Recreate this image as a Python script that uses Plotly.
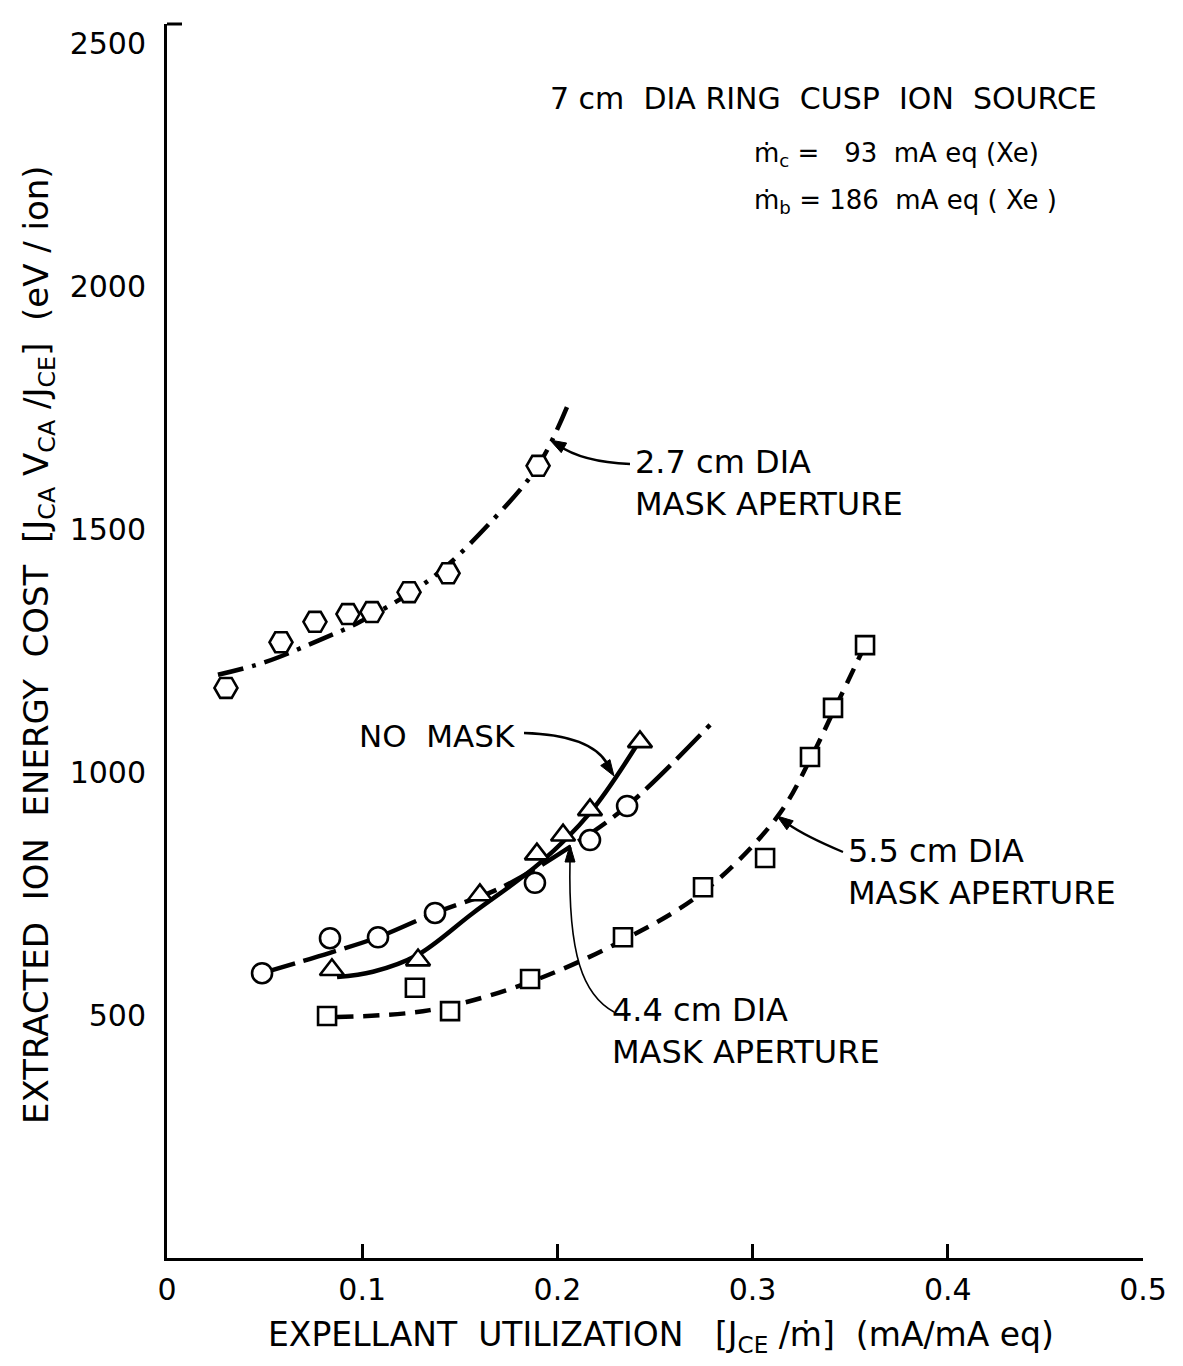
import math
import plotly.graph_objects as go

# ---------------- data ----------------
# 2.7 cm DIA mask aperture (hexagons)
hex_x = [0.0302, 0.0584, 0.0758, 0.0927, 0.1050, 0.1240, 0.1440, 0.1901]
hex_y = [1173, 1267, 1309, 1325, 1329, 1370, 1409, 1630]
hex_fit_x = [0.0261, 0.0502, 0.0784, 0.0989, 0.1363, 0.1670, 0.1901, 0.2049]
hex_fit_y = [1200, 1226, 1272, 1309, 1401, 1519, 1630, 1751]

# 4.4 cm DIA mask aperture (circles)
cir_x = [0.0487, 0.0835, 0.1081, 0.1373, 0.1885, 0.2167, 0.2357]
cir_y = [586, 658, 660, 710, 772, 860, 930]
cir_fit_x = [0.0487, 0.0835, 0.1081, 0.1373, 0.1706, 0.2065, 0.2357, 0.2782]
cir_fit_y = [586, 628, 660, 710, 761, 846, 930, 1097]

# No mask (triangles)
tri_x = [0.0845, 0.1286, 0.1603, 0.1895, 0.2029, 0.2167, 0.2423]
tri_y = [593, 613, 747, 831, 870, 922, 1062]
tri_fit_x = [0.0871, 0.1055, 0.1281, 0.1568, 0.1911, 0.2167, 0.2408]
tri_fit_y = [578, 589, 623, 710, 813, 916, 1056]

# 5.5 cm DIA mask aperture (squares)
sq_x = [0.0820, 0.1270, 0.1450, 0.1860, 0.2336, 0.2746, 0.3064, 0.3294, 0.3412, 0.3576]
sq_y = [498, 556, 508, 574, 660, 763, 823, 1031, 1132, 1261]
sq_fit_x = [0.0871, 0.1347, 0.1860, 0.2336, 0.2746, 0.3125, 0.3294, 0.3412, 0.3560]
sq_fit_y = [496, 510, 568, 654, 753, 907, 1025, 1123, 1247]

x_ticks = [0, 0.1, 0.2, 0.3, 0.4, 0.5]
x_ticktext = ["0", "0.1", "0.2", "0.3", "0.4", "0.5"]
y_ticks = [500, 1000, 1500, 2000, 2500]
y_ticktext = ["500", "1000", "1500", "2000", "2500"]

# ---------------- layout helpers (pixel -> paper units) ----------------
L, R, T, B = 167, 40, 24, 108
W, H = 1183, 1366
PW, PH = W - L - R, H - B - T
X_MAX = 0.5
Y_MAX = PH / 0.486          # 486 px per 1000 eV/ion


def PPX(px):   # paper x
    return (px - L) / PW


def PPY(py):   # paper y
    return (H - B - py) / PH


FONT = "DejaVu Sans"
BLACK = "#000000"
NB = "\u00a0"

fig = go.Figure()

# fitted curves
fig.add_trace(go.Scatter(x=hex_fit_x, y=hex_fit_y, mode="lines", line_shape="spline",
                         line=dict(color=BLACK, width=4.5, dash="26px,9px,4px,9px"),
                         hoverinfo="skip", showlegend=False))
fig.add_trace(go.Scatter(x=cir_fit_x, y=cir_fit_y, mode="lines", line_shape="spline",
                         line=dict(color=BLACK, width=4.5, dash="34px,9px"),
                         hoverinfo="skip", showlegend=False))
fig.add_trace(go.Scatter(x=sq_fit_x, y=sq_fit_y, mode="lines", line_shape="spline",
                         line=dict(color=BLACK, width=4.5, dash="16px,10px"),
                         hoverinfo="skip", showlegend=False))
fig.add_trace(go.Scatter(x=tri_fit_x, y=tri_fit_y, mode="lines", line_shape="spline",
                         line=dict(color=BLACK, width=4.5),
                         hoverinfo="skip", showlegend=False))

mk_line = dict(color=BLACK, width=2.6)
fig.add_trace(go.Scatter(x=hex_x, y=hex_y, mode="markers", name="2.7 cm DIA",
                         marker=dict(symbol="hexagon2", size=23, color="white", line=mk_line),
                         showlegend=False))
fig.add_trace(go.Scatter(x=cir_x, y=cir_y, mode="markers", name="4.4 cm DIA",
                         marker=dict(symbol="circle", size=20, color="white", line=mk_line),
                         showlegend=False))
fig.add_trace(go.Scatter(x=tri_x, y=tri_y, mode="markers", name="NO MASK",
                         marker=dict(symbol="triangle-up", size=21, color="white", line=mk_line),
                         showlegend=False))
fig.add_trace(go.Scatter(x=sq_x, y=sq_y, mode="markers", name="5.5 cm DIA",
                         marker=dict(symbol="square", size=18, color="white", line=mk_line),
                         showlegend=False))

annotations = []
shapes = []


def text(px, py, s, size=32, xanchor="left", align="left", angle=0):
    annotations.append(dict(x=PPX(px), y=PPY(py), xref="paper", yref="paper", text=s,
                            showarrow=False, xanchor=xanchor, yanchor="middle", align=align,
                            textangle=angle,
                            font=dict(family=FONT, size=size, color=BLACK)))


def curve(path_px, width=2.2):
    parts = []
    for tok in path_px:
        if isinstance(tok, str):
            parts.append(tok)
        else:
            parts.append(f"{PPX(tok[0])},{PPY(tok[1])}")
    shapes.append(dict(type="path", xref="paper", yref="paper", path=" ".join(parts),
                       line=dict(color=BLACK, width=width)))


def head(tip, frm, length=16, half=5.5):
    dx, dy = tip[0] - frm[0], tip[1] - frm[1]
    n = math.hypot(dx, dy)
    ux, uy = dx / n, dy / n
    bx, by = tip[0] - ux * length, tip[1] - uy * length
    p1 = (bx - uy * half, by + ux * half)
    p2 = (bx + uy * half, by - ux * half)
    path = (f"M {PPX(tip[0])},{PPY(tip[1])} L {PPX(p1[0])},{PPY(p1[1])} "
            f"L {PPX(p2[0])},{PPY(p2[1])} Z")
    shapes.append(dict(type="path", xref="paper", yref="paper", path=path,
                       fillcolor=BLACK, line=dict(color=BLACK, width=1)))


# header block
text(823, 98, f"7 cm{NB}{NB}DIA{NB}RING{NB}{NB}CUSP{NB}{NB}ION{NB}{NB}SOURCE", size=30,
     xanchor="center", align="center")
text(752, 155, f"ṁ<sub>c</sub>{NB}={NB}{NB}{NB}93{NB}{NB}mA{NB}eq{NB}(Xe)", size=26)
text(752, 202, f"ṁ<sub>b</sub>{NB}={NB}186{NB}{NB}mA{NB}eq{NB}({NB}Xe{NB})", size=26)

# callouts
text(633, 483, "2.7 cm DIA<br>MASK APERTURE", size=32)
text(357, 736, f"NO{NB}{NB}MASK", size=31)
text(610, 1031, "4.4 cm DIA<br>MASK APERTURE", size=32)
text(846, 872, "5.5 cm DIA<br>MASK APERTURE", size=32)

curve(["M", (630, 464), "Q", (582, 462), (558, 445)], width=2.4)
head((550, 440), (566, 449))
curve(["M", (524, 733), "Q", (592, 735), (608, 765)], width=2.6)
head((614, 776), (603, 759))
curve(["M", (614, 1012), "C", (583, 995), (568, 955), (570, 860)], width=1.6)
head((570, 845), (570, 866), length=17, half=5)
curve(["M", (843, 852), "Q", (805, 836), (788, 824)], width=2.2)
head((777, 816), (791, 826))

# axis titles
text(661, 1336,
     f"EXPELLANT{NB}{NB}UTILIZATION{NB}{NB}{NB}[J<sub>CE</sub>{NB}/ṁ]{NB}{NB}(mA/mA{NB}eq)",
     size=33, xanchor="center", align="center")
text(38, 645,
     f"EXTRACTED{NB}{NB}ION{NB}{NB}ENERGY{NB}{NB}COST{NB}{NB}[J<sub>CA</sub>{NB}V<sub>CA</sub>"
     f"{NB}/J<sub>CE</sub>]{NB}{NB}(eV{NB}/{NB}ion)",
     size=34, xanchor="center", align="center", angle=-90)

# top tick on y axis
shapes.append(dict(type="line", xref="paper", yref="paper", x0=0, x1=15 / PW,
                   y0=1, y1=1, line=dict(color=BLACK, width=3)))

fig.update_layout(
    width=W, height=H,
    margin=dict(l=L, r=R, t=T, b=B),
    paper_bgcolor="white", plot_bgcolor="white",
    showlegend=False,
    annotations=annotations,
    shapes=shapes,
    font=dict(family=FONT, color=BLACK),
    xaxis=dict(range=[0, X_MAX], tickvals=x_ticks, ticktext=x_ticktext,
               ticks="inside", ticklen=14, tickwidth=2.5, tickcolor=BLACK,
               showline=True, linewidth=3, linecolor=BLACK, showgrid=False, zeroline=False,
               tickfont=dict(family=FONT, size=30, color=BLACK), ticklabelstandoff=3),
    yaxis=dict(range=[0, Y_MAX], tickvals=y_ticks, ticktext=y_ticktext,
               ticks="", showline=True, linewidth=3, linecolor=BLACK,
               showgrid=False, zeroline=False,
               tickfont=dict(family=FONT, size=30, color=BLACK), ticklabelstandoff=12),
)

fig.write_html("out.html")
